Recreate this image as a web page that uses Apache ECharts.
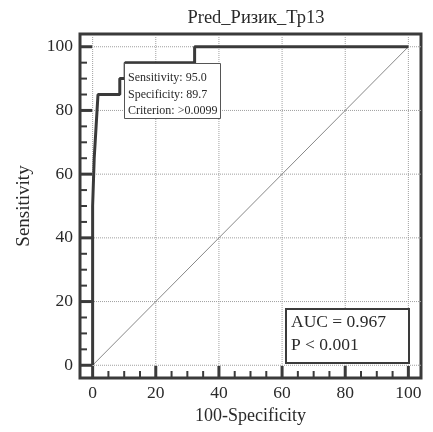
<!DOCTYPE html>
<html>
<head>
<meta charset="utf-8">
<script src="https://cdn.jsdelivr.net/npm/echarts@6/dist/echarts.min.js"></script>
<style>html,body{margin:0;padding:0;background:#fff}#c{width:433px;height:432px}</style>
</head>
<body>
<div id="c"></div>
<script>
// ---- data ----
const titleText = 'Pred_Ризик_Тр13';
const xAxisName = '100-Specificity';
const yAxisName = 'Sensitivity';
const axisMin = -4;
const axisMax = 104;
const majorTicks = [0, 20, 40, 60, 80, 100];
const minorTicks = [5, 10, 15, 25, 30, 35, 45, 50, 55, 65, 70, 75, 85, 90, 95];
const rocX = [0, 0, 0.5, 0.5, 1.1, 1.1, 1.7, 1.7, 8.6, 8.6, 10.3, 10.3, 32.3, 32.3, 100];
const rocY = [0, 50, 50, 65, 65, 75, 75, 85, 85, 90, 90, 95, 95, 100, 100];
const diagX = [0, 100];
const diagY = [0, 100];
const criterionLines = ['Sensitivity: 95.0', 'Specificity: 89.7', 'Criterion: >0.0099'];
const aucLines = ['AUC = 0.967', 'P < 0.001'];

const FONT = '"Liberation Serif", "DejaVu Serif", serif';
const DARK = '#3a3a3a';

const chart = echarts.init(document.getElementById('c'), null, {renderer: 'canvas'});

const rocData = rocX.map((x, i) => [x, rocY[i]]);
const diagData = diagX.map((x, i) => [x, diagY[i]]);

function gridLines(params, api) {
  const v = api.value(0);
  const a = api.coord([v, axisMin]);
  const b = api.coord([v, axisMax]);
  const c = api.coord([axisMin, v]);
  const d = api.coord([axisMax, v]);
  const style = {stroke: '#a0a0a0', lineWidth: 1, lineDash: [1, 1]};
  return {type: 'group', children: [
    {type: 'line', shape: {x1: a[0], y1: a[1], x2: b[0], y2: b[1]}, style: style},
    {type: 'line', shape: {x1: c[0], y1: c[1], x2: d[0], y2: d[1]}, style: style}
  ]};
}
function tickMaker(len, width) {
  return function (params, api) {
    const v = api.value(0);
    const p = api.coord([v, axisMin]);
    const q = api.coord([axisMin, v]);
    const style = {stroke: DARK, lineWidth: width};
    return {type: 'group', children: [
      {type: 'line', shape: {x1: p[0], y1: p[1], x2: p[0], y2: p[1] - len}, style: style},
      {type: 'line', shape: {x1: q[0], y1: q[1], x2: q[0] + len, y2: q[1]}, style: style}
    ]};
  };
}

const option = {
  backgroundColor: '#fff',
  animation: false,
  title: {
    text: titleText, left: 251, top: 4, textAlign: 'center',
    textStyle: {fontFamily: FONT, fontSize: 18.5, fontWeight: 'normal', color: '#2a2a2a'}
  },
  grid: {left: 80, right: 12, top: 34, bottom: 54, show: true, borderColor: DARK, borderWidth: 3, backgroundColor: '#fff'},
  xAxis: {
    type: 'value', min: axisMin, max: axisMax,
    name: xAxisName, nameLocation: 'middle', nameGap: 29,
    nameTextStyle: {fontFamily: FONT, fontSize: 18, color: '#2a2a2a'},
    axisLine: {show: false}, axisTick: {show: false}, splitLine: {show: false},
    axisLabel: {customValues: majorTicks, fontFamily: FONT, fontSize: 17.5, color: '#2a2a2a', margin: 6}
  },
  yAxis: {
    type: 'value', min: axisMin, max: axisMax,
    name: yAxisName, nameLocation: 'middle', nameGap: 46,
    nameTextStyle: {fontFamily: FONT, fontSize: 19, color: '#2a2a2a'},
    axisLine: {show: false}, axisTick: {show: false}, splitLine: {show: false},
    axisLabel: {customValues: majorTicks, fontFamily: FONT, fontSize: 17.5, color: '#2a2a2a', margin: 7}
  },
  series: [
    {type: 'custom', data: majorTicks.map(v => [v]), renderItem: gridLines, silent: true, z: 1, clip: false},
    {type: 'line', data: diagData, symbol: 'none', silent: true, z: 2,
     lineStyle: {color: '#888', width: 1}},
    {type: 'line', data: rocData, symbol: 'none', silent: true, z: 3,
     lineStyle: {color: DARK, width: 3}},
    {type: 'custom', data: majorTicks.map(v => [v]), renderItem: tickMaker(12, 3), silent: true, z: 4, clip: false},
    {type: 'custom', data: minorTicks.map(v => [v]), renderItem: tickMaker(7, 2), silent: true, z: 4, clip: false}
  ],
  graphic: [
    {type: 'rect', left: 124, top: 63, z: 10,
     shape: {width: 96, height: 55},
     style: {fill: '#fff', stroke: '#555', lineWidth: 1}},
    {type: 'text', left: 128, top: 70, z: 11,
     style: {text: criterionLines.join('\n'), fontFamily: FONT, fontSize: 12, lineHeight: 16.5, fill: '#2a2a2a'}},
    {type: 'rect', left: 285, top: 308, z: 10,
     shape: {width: 123, height: 54},
     style: {fill: '#fff', stroke: DARK, lineWidth: 2}},
    {type: 'text', left: 291, top: 311, z: 11,
     style: {text: aucLines.join('\n'), fontFamily: FONT, fontSize: 17.5, lineHeight: 23, fill: '#2a2a2a'}}
  ]
};
chart.setOption(option);
</script>
</body>
</html>
